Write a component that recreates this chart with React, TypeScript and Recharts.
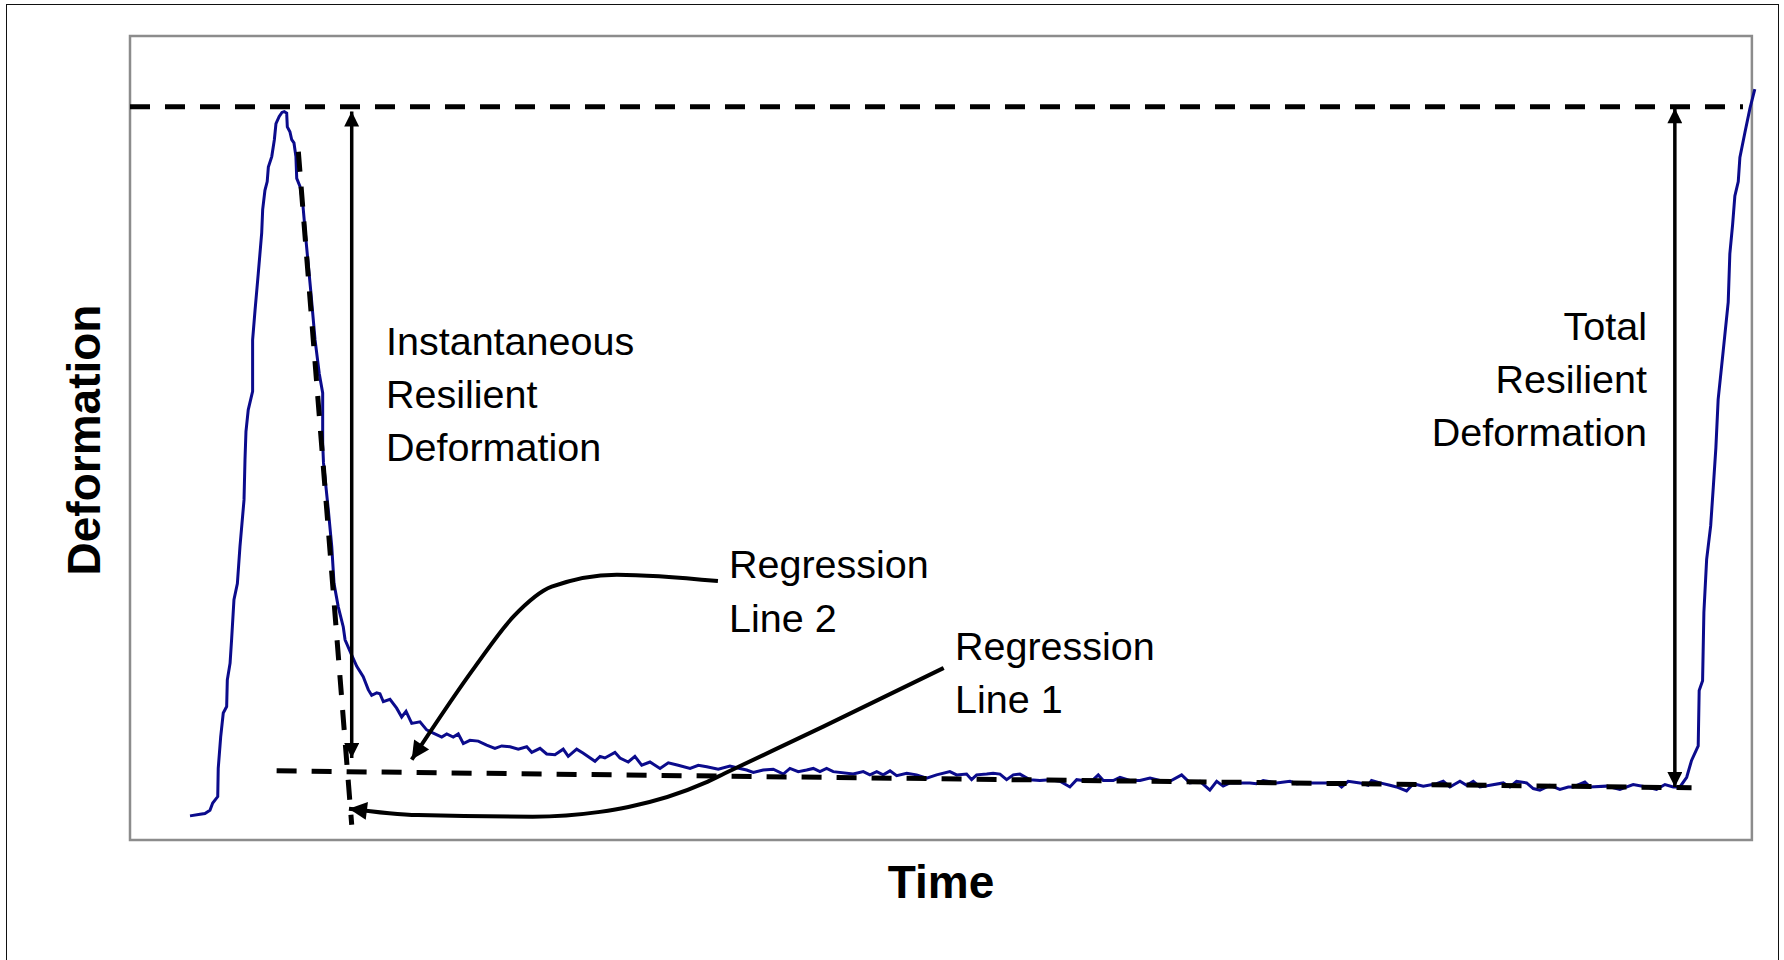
import { LineChart, Line, XAxis, YAxis, ReferenceArea } from "recharts";

// Deformation trace. Time in arbitrary units (frame = 0..1000),
// deformation in % of frame height.
const traceTime = [
  37.0, 43.2, 46.2, 49.3, 51.0, 54.1, 54.4, 55.9, 57.5, 59.6,
  60.0, 61.7, 62.7, 64.1, 66.2, 67.8, 70.3, 70.9, 71.5, 72.9,
  75.6, 75.6, 77.1, 79.1, 81.2, 81.8, 83.2, 84.6, 85.3, 87.4,
  89.0, 90.0, 92.0, 93.7, 95.1, 96.6, 97.0, 98.6, 99.7, 101.1,
  102.3, 102.8, 104.8, 106.5, 108.5, 111.4, 114.1, 116.7, 118.8, 118.8,
  119.3, 122.3, 124.4, 125.8, 128.4, 131.5, 132.6, 136.7, 139.8, 143.8,
  146.9, 149.0, 152.1, 154.1, 156.2, 160.3, 164.4, 167.5, 170.2, 173.7,
  178.8, 182.9, 187.0, 192.2, 195.3, 199.3, 202.4, 205.5, 209.6, 214.7,
  219.9, 225.0, 229.2, 234.3, 239.4, 244.6, 247.7, 252.8, 256.9, 262.0,
  267.1, 270.2, 275.4, 279.5, 286.7, 289.8, 292.8, 299.0, 302.1, 307.2,
  311.3, 315.5, 320.6, 326.8, 331.9, 338.0, 345.3, 350.4, 355.6, 362.7,
  369.9, 376.1,
  380.2, 384.3, 390.4, 396.6, 402.8, 406.9, 412.0, 417.2, 421.3, 425.4,
  429.5, 433.6, 445.9, 452.1, 456.2, 460.4, 464.4, 468.6, 472.7, 478.9,
  485.0, 491.2, 497.3, 505.5, 509.7, 515.8, 518.9, 522.0, 528.2, 532.2,
  536.4, 540.5, 544.6, 548.7, 554.9, 561.0, 567.2, 573.4, 579.5, 583.7,
  587.7, 593.9, 597.0, 600.1, 606.2, 610.4, 616.5, 622.7,
  628.9, 635.0, 641.2, 648.4, 653.5, 659.7, 665.8, 670.0, 674.0, 678.2,
  684.3, 690.5, 694.6, 698.7, 706.9, 715.2, 719.3, 725.5, 735.7, 744.0,
  747.0, 751.1, 758.3, 763.4, 765.5, 770.7, 776.8, 780.9, 787.1, 791.2,
  797.4, 805.6, 809.7, 813.8, 820.0, 824.1, 828.2, 832.3, 838.5, 846.7,
  850.8, 854.9, 861.1, 865.2, 869.3, 875.5, 881.6, 886.8,
  889.8, 897.0, 900.1, 910.4, 918.6, 926.8, 935.1, 941.2, 946.4, 951.5,
  955.6, 959.8, 962.8, 966.9, 967.5, 969.6, 970.4, 972.1, 974.6, 976.2,
  977.8, 979.2, 982.3, 985.4, 986.4, 988.1, 989.5, 991.6, 992.6, 995.7,
  998.8, 1001.8,
];

const traceDef = [
  3.0, 3.2, 3.3, 3.7, 4.6, 5.4, 8.9, 12.8, 15.8, 16.6,
  19.9, 22.0, 25.1, 29.9, 31.9, 36.5, 42.3, 47.3, 50.8, 53.5,
  55.8, 62.2, 65.9, 70.5, 75.5, 78.4, 80.8, 81.9, 83.7, 85.0,
  87.1, 89.1, 90.0, 90.5, 90.6, 90.4, 88.7, 88.1, 87.1, 86.7,
  85.0, 82.3, 81.3, 79.2, 74.6, 68.4, 62.2, 58.0, 55.6, 49.3,
  46.9, 41.0, 36.5, 31.9, 29.0, 26.5, 24.9, 23.0, 21.6, 20.3,
  18.7, 18.0, 18.3, 18.2, 17.2, 17.5, 16.4, 15.3, 16.0, 14.5,
  14.7, 13.7, 13.3, 12.8, 13.2, 12.8, 13.2, 12.0, 12.4, 12.3,
  11.8, 11.4, 11.7, 11.6, 11.3, 11.6, 10.9, 11.4, 10.7, 10.6,
  11.3, 10.4, 11.3, 10.8, 9.8, 10.4, 10.2, 10.9, 10.2, 9.7,
  10.4, 9.3, 9.7, 8.9, 9.6, 9.3, 8.9, 9.3, 9.1, 8.8,
  9.2, 8.9,
  8.7, 8.4, 8.7, 8.8, 8.2, 8.9, 8.5, 8.7, 8.9, 8.5,
  8.9, 8.5, 8.2, 8.5, 8.1, 8.5, 8.1, 8.6, 8.0, 8.3,
  8.1, 7.7, 8.1, 8.5, 8.1, 8.2, 7.5, 8.1, 8.2, 8.3,
  8.2, 7.5, 8.1, 8.2, 7.5, 7.4, 7.5, 7.3, 6.6, 7.5,
  7.4, 7.5, 8.1, 7.4, 7.4, 7.8, 7.4, 7.4,
  7.7, 7.4, 7.3, 8.1, 7.1, 7.3, 6.2, 7.3, 6.7, 7.1,
  7.1, 7.1, 7.0, 7.4, 7.1, 7.3, 7.0, 7.1, 7.1, 7.1,
  6.6, 7.3, 7.1, 6.8, 7.4, 7.1, 6.8, 6.6, 6.1, 7.0,
  6.7, 7.0, 7.3, 6.6, 7.3, 6.8, 7.3, 6.6, 6.8, 7.1,
  6.6, 7.3, 7.1, 6.4, 6.2, 6.8, 6.3, 6.6,
  6.6, 7.2, 6.6, 6.7, 6.3, 6.9, 6.6, 6.3, 6.9, 6.6,
  6.6, 7.8, 9.9, 11.7, 18.6, 19.8, 28.3, 34.9, 39.1, 43.9,
  48.8, 54.8, 60.8, 66.9, 72.9, 76.5, 80.1, 81.9, 84.9, 88.0,
  91.0, 93.4,
];

// peak level (top dashed line)
const peakTime = [0, 994.5];
const peakDef = [91.2, 91.2];

// regression line 1: steep unloading fit
const reg1Time = [103.8, 136.7];
const reg1Def = [85.6, 1.9];

// regression line 2: recovery tail fit
const reg2Time = [90.4, 962.8];
const reg2Def = [8.6, 6.5];

// dimension arrows
const instTime = [136.7, 136.7];
const instDef = [90.6, 10.2];
const totalTime = [952.5, 952.5];
const totalDef = [91.0, 6.6];

// callout leaders (arrow tip first)
const call2Time = [173.7, 212.9, 236.5, 260.0, 300.2, 362.5];
const call2Def = [10.0, 21.6, 27.8, 31.5, 33.0, 32.2];
const call1Time = [135.0, 177.5, 248.3, 289.8, 307.3, 354.4, 366.8, 427.4, 501.7];
const call1Def = [3.9, 3.1, 2.9, 3.5, 4.1, 7.1, 8.3, 14.1, 21.4];

const pts = (ts: number[], ds: number[]) => ts.map((t, i) => ({ t, d: ds[i] }));

const FONT = "'Liberation Sans', Arial, sans-serif";
const DASH = "20 15";

export default function App() {
  return (
    <div
      style={{
        position: "absolute",
        top: 0,
        left: 0,
        width: 1784,
        height: 960,
        overflow: "hidden",
        background: "#fff",
      }}
    >
      <div
        style={{
          position: "absolute",
          left: 6,
          top: 4,
          width: 1773,
          height: 1000,
          border: "1.5px solid #111",
          boxSizing: "border-box",
        }}
      />
      <svg width={0} height={0} style={{ position: "absolute" }}>
        <defs>
          <marker
            id="headSmall"
            viewBox="0 0 10 10"
            refX={10}
            refY={5}
            markerWidth={16}
            markerHeight={15}
            markerUnits="userSpaceOnUse"
            orient="auto-start-reverse"
          >
            <path d="M0,0 L10,5 L0,10 z" fill="#000" />
          </marker>
          <marker
            id="headBig"
            viewBox="0 0 10 10"
            refX={10}
            refY={5}
            markerWidth={21}
            markerHeight={18}
            markerUnits="userSpaceOnUse"
            orient="auto-start-reverse"
          >
            <path d="M0,0 L10,5 L0,10 z" fill="#000" />
          </marker>
        </defs>
      </svg>
      <div style={{ position: "absolute", top: 0, left: 0 }}>
        <LineChart width={1784} height={960} margin={{ top: 36, right: 24, bottom: 120, left: 130 }}>
          <XAxis type="number" dataKey="t" domain={[0, 1005]} hide />
          <YAxis type="number" dataKey="d" domain={[0, 100]} hide />
          <ReferenceArea
            x1={0}
            x2={1000}
            y1={0}
            y2={100}
            fill="none"
            fillOpacity={0}
            stroke="#8c8c8c"
            strokeWidth={2.5}
            ifOverflow="visible"
          />
          <Line
            data={pts(traceTime, traceDef)}
            dataKey="d"
            type="linear"
            stroke="#0b0b8c"
            strokeWidth={3}
            dot={false}
            isAnimationActive={false}
          />
          <Line
            data={pts(peakTime, peakDef)}
            dataKey="d"
            type="linear"
            stroke="#000"
            strokeWidth={5}
            strokeDasharray={DASH}
            dot={false}
            isAnimationActive={false}
          />
          <Line
            data={pts(reg1Time, reg1Def)}
            dataKey="d"
            type="linear"
            stroke="#000"
            strokeWidth={5}
            strokeDasharray={DASH}
            dot={false}
            isAnimationActive={false}
          />
          <Line
            data={pts(reg2Time, reg2Def)}
            dataKey="d"
            type="linear"
            stroke="#000"
            strokeWidth={5}
            strokeDasharray={DASH}
            dot={false}
            isAnimationActive={false}
          />
          <Line
            data={pts(instTime, instDef)}
            dataKey="d"
            type="linear"
            stroke="#000"
            strokeWidth={3.5}
            markerStart="url(#headSmall)"
            markerEnd="url(#headSmall)"
            dot={false}
            isAnimationActive={false}
          />
          <Line
            data={pts(totalTime, totalDef)}
            dataKey="d"
            type="linear"
            stroke="#000"
            strokeWidth={3.5}
            markerStart="url(#headSmall)"
            markerEnd="url(#headSmall)"
            dot={false}
            isAnimationActive={false}
          />
          <Line
            data={pts(call2Time, call2Def)}
            dataKey="d"
            type="monotone"
            stroke="#000"
            strokeWidth={4}
            markerStart="url(#headBig)"
            dot={false}
            isAnimationActive={false}
          />
          <Line
            data={pts(call1Time, call1Def)}
            dataKey="d"
            type="monotone"
            stroke="#000"
            strokeWidth={4}
            markerStart="url(#headBig)"
            dot={false}
            isAnimationActive={false}
          />
        </LineChart>
      </div>
      <svg
        width={1784}
        height={960}
        style={{ position: "absolute", top: 0, left: 0, pointerEvents: "none" }}
        fontFamily={FONT}
        fill="#000"
      >
        <g fontSize={39.5}>
          <text x={386} y={355}>Instantaneous</text>
          <text x={386} y={408}>Resilient</text>
          <text x={386} y={461}>Deformation</text>
          <text x={1647} y={340} textAnchor="end">Total</text>
          <text x={1647} y={393} textAnchor="end">Resilient</text>
          <text x={1647} y={446} textAnchor="end">Deformation</text>
          <text x={729} y={578}>Regression</text>
          <text x={729} y={632}>Line 2</text>
          <text x={955} y={660}>Regression</text>
          <text x={955} y={713}>Line 1</text>
        </g>
        <text
          transform="translate(100,440) rotate(-90)"
          textAnchor="middle"
          fontSize={46}
          fontWeight="bold"
        >
          Deformation
        </text>
        <text x={941} y={898} textAnchor="middle" fontSize={46} fontWeight="bold">
          Time
        </text>
      </svg>
    </div>
  );
}
